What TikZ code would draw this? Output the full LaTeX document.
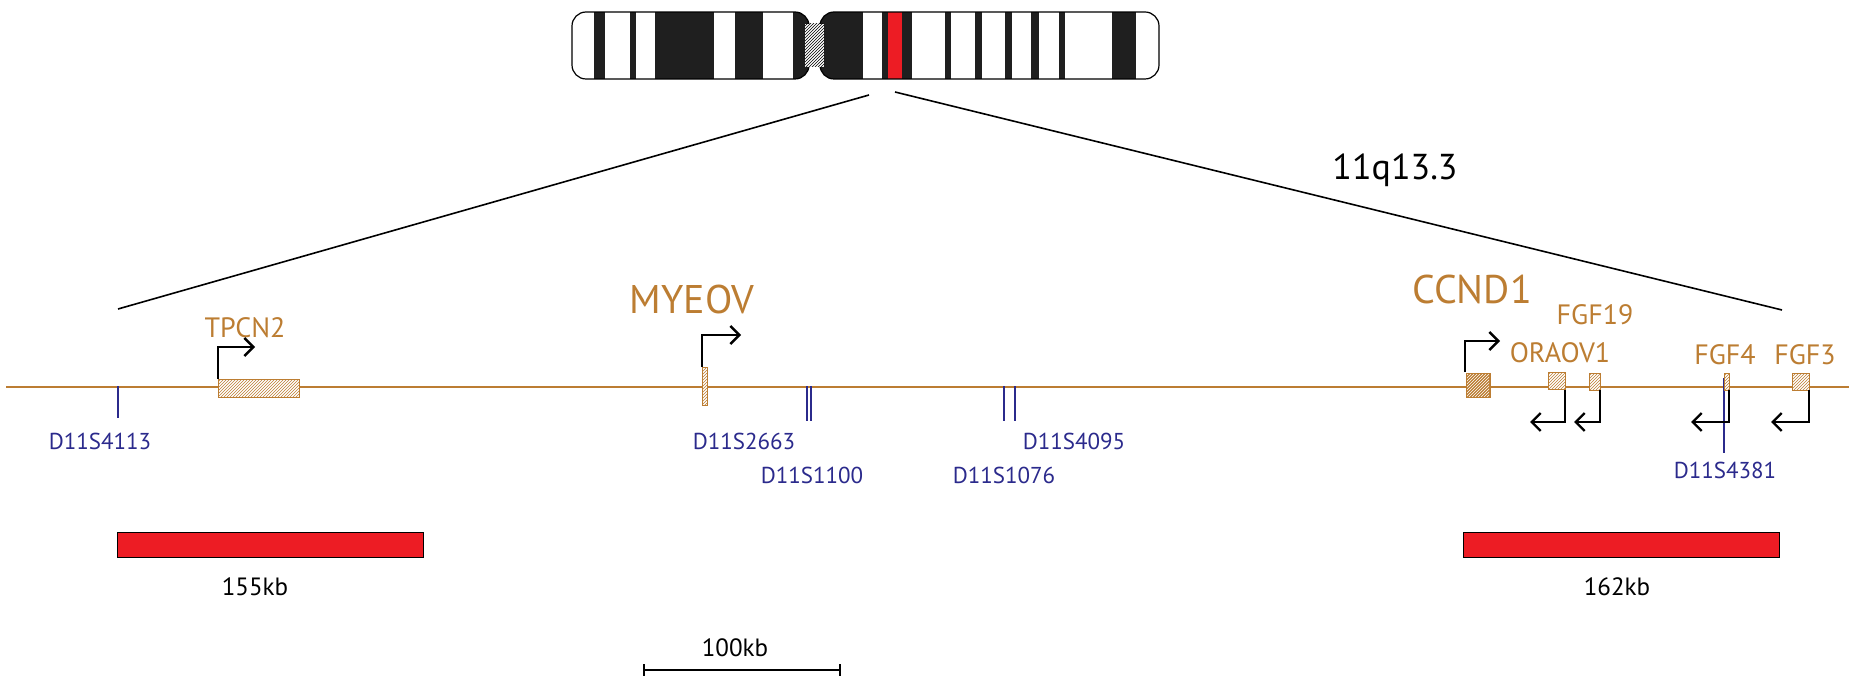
\documentclass[tikz,border=0pt]{standalone}
\usepackage{fontspec}
\setmainfont{PT Sans}
\usetikzlibrary{arrows.meta,patterns}
\definecolor{org}{RGB}{188,125,50}
\definecolor{blu}{RGB}{43,42,140}
\definecolor{rd}{RGB}{237,28,36}
\begin{document}
\begin{tikzpicture}[x=1pt,y=-1pt,
 olab/.style={text=org,font=\fontsize{28}{30}\selectfont},
 blab/.style={text=blu,font=\fontsize{23}{25}\selectfont},
 klab/.style={text=black,font=\fontsize{25}{27}\selectfont},
 gene/.style={draw=org,line width=1pt,fill=white,postaction={pattern=north east lines,pattern color=org}},
 stsm/.style={draw=blu,line width=1.8pt},
 tss/.style={draw=black,line width=2.4pt,-{Straight Barb[length=9pt,width=18pt,line width=2.4pt]}},
 bar/.style={draw=black,line width=1pt,fill=rd}]
\useasboundingbox (0,0) rectangle (1849,684);
% chromosome
\begin{scope}[xshift=-3pt]
\begin{scope}
\clip[rounded corners=14pt] (575,12) rectangle (812,79);
\fill[black!88] (575,12) rectangle (812,79);
\foreach \a/\b in {575/597,608/633,639/658,717/738,766/796}{\fill[white] (\a,12) rectangle (\b,79);}
\end{scope}
\begin{scope}
\clip[rounded corners=14pt] (823,12) rectangle (1162,79);
\fill[black!88] (823,12) rectangle (1162,79);
\foreach \a/\b in {866/885,915/948,954/978,985/1008,1015/1034,1042/1062,1068/1115,1139/1162}{\fill[white] (\a,12) rectangle (\b,79);}
\fill[rd] (891,12) rectangle (905,79);
\end{scope}
\draw[line width=1.2pt,rounded corners=14pt] (575,12) rectangle (812,79);
\draw[line width=1.2pt,rounded corners=14pt] (823,12) rectangle (1162,79);
\fill[white,postaction={pattern=north east lines}] (808,24) -- (827,24) -- (827,67) -- (808,67) -- cycle;
\end{scope}
% zoom lines
\coordinate (zl0) at (869,95); \coordinate (zl1) at (118,309);
\coordinate (zr0) at (895,92); \coordinate (zr1) at (1782,310);
\draw[line width=1.6pt] (zl0) -- (zl1);
\draw[line width=1.6pt] (zr0) -- (zr1);
\node[font=\fontsize{36}{38}\selectfont] (band) at (1395,170) {11q13.3};
% main line
\coordinate (m0) at (6,387); \coordinate (m1) at (1849,387);
\draw[org,line width=1.6pt] (m0) -- (m1);
% markers
\foreach \n/\x/\y in {s4113/118/418,s2663/807/421,s1100/811/421,s1076/1004/421,s4095/1015/421}{
 \coordinate (\n a) at (\x,386); \coordinate (\n b) at (\x,\y); \draw[stsm] (\n a) -- (\n b);}
\coordinate (s4381a) at (1724,378); \coordinate (s4381b) at (1724,453); \draw[stsm] (s4381a) -- (s4381b);
\node[blab] (l4113) at (100,441) {D11S4113};
\node[blab] (l2663) at (744,441) {D11S2663};
\node[blab] (l1100) at (812,475) {D11S1100};
\node[blab] (l4095) at (1074,441) {D11S4095};
\node[blab] (l1076) at (1004,475) {D11S1076};
\node[blab] (l4381) at (1725,470) {D11S4381};
% genes
\draw[gene] (218,379) rectangle (299,397); \coordinate (t1) at (218,379);
\draw[gene] (702,367) rectangle (707,405); \coordinate (t2) at (702,367);
\draw[draw=org,line width=3pt,fill=org,postaction={pattern=north east lines,pattern color=white}] (1467,374) rectangle (1489,396);
\coordinate (t3) at (1465,372);
\draw[gene] (1548,372) rectangle (1565,389);
\draw[gene] (1589,373) rectangle (1600,390);
\draw[gene] (1724,373) rectangle (1729,390);
\draw[gene] (1792,373) rectangle (1809,390);
\node[olab] (ltpcn) at (245,328) {TPCN2};
\node[olab,font=\fontsize{40}{42}\selectfont] (lmyeov) at (692,300) {MYEOV};
\node[olab,font=\fontsize{40}{42}\selectfont] (lccnd) at (1472,290) {CCND1};
\node[olab] (lfgf19) at (1595,315) {FGF19};
\node[olab] (lorao) at (1560,353) {ORAOV1};
\node[olab] (lfgf4) at (1725,355) {FGF4};
\node[olab] (lfgf3) at (1805,355) {FGF3};
% TSS arrows
\coordinate (a1) at (255,347); \draw[tss] (t1) |- (a1);
\coordinate (a2) at (741,335); \draw[tss] (t2) |- (a2);
\coordinate (a3) at (1500,341); \draw[tss] (t3) |- (a3);
\foreach \n/\x/\e in {r1/1565/1530,r2/1600/1574,r3/1729/1691,r4/1809/1771}{
 \coordinate (\n s) at (\x,390); \coordinate (\n e) at (\e,422); \draw[tss] (\n s) |- (\n e);}
% bars
\draw[bar] (117,532) rectangle (423,557); \node[klab] (k155) at (255,587) {155kb};
\draw[bar] (1463,532) rectangle (1779,557); \node[klab] (k162) at (1617,587) {162kb};
% scale
\coordinate (sc0) at (644,670); \coordinate (sc1) at (840,670);
\draw[line width=1.4pt] (sc0) -- (sc1);
\draw[line width=1.4pt] (644,664) -- (644,676) (840,664) -- (840,676);
\node[klab] (k100) at (735,648) {100kb};
\end{tikzpicture}
\end{document}
